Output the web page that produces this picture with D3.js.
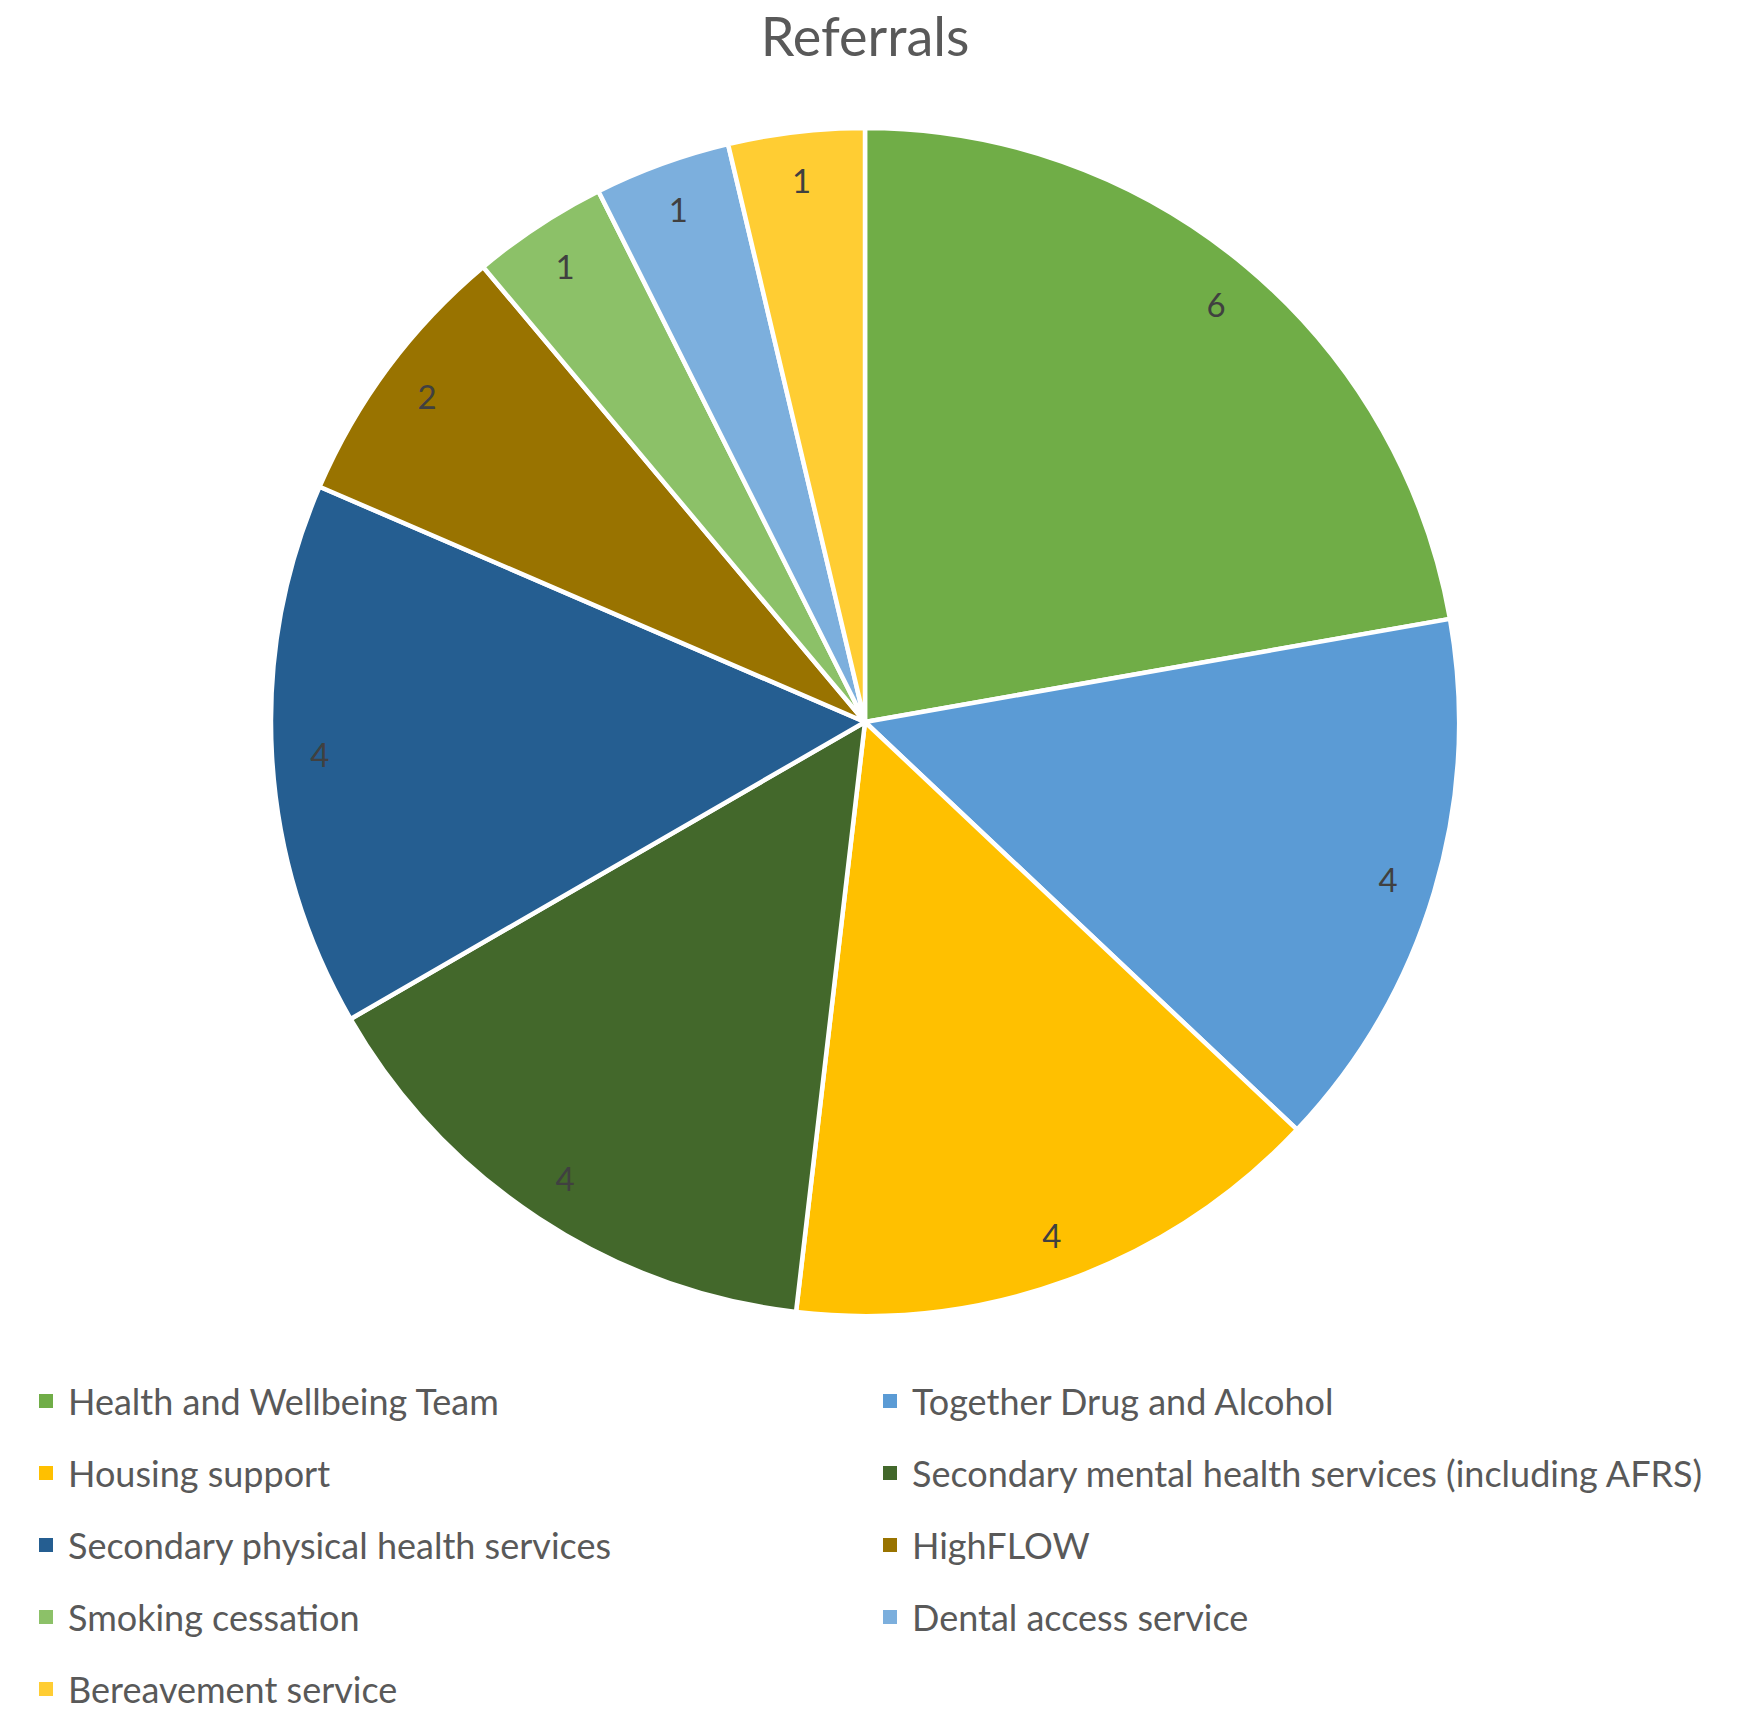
<!DOCTYPE html>
<html>
<head>
<meta charset="utf-8">
<script src="https://cdn.jsdelivr.net/npm/d3@7"></script>
<style>
  html, body { margin: 0; padding: 0; background: #fff; }
  svg { display: block; }
</style>
</head>
<body>
<svg id="chart" width="1741" height="1712"></svg>
<script>
// Referral counts by service
const categories = [
  "Health and Wellbeing Team",
  "Together Drug and Alcohol",
  "Housing support",
  "Secondary mental health services (including AFRS)",
  "Secondary physical health services",
  "HighFLOW",
  "Smoking cessation",
  "Dental access service",
  "Bereavement service"
];
const values = [6, 4, 4, 4, 4, 2, 1, 1, 1];
const colors = ["#70AD47", "#5B9BD5", "#FFC000", "#43682B", "#255E91", "#997300", "#8CC168", "#7CAFDD", "#FFCD33"];
const title = "Referrals";

const svg = d3.select("#chart");
const cx = 865, cy = 722, R = 594;
const font = "Lato, 'Open Sans', sans-serif";

// Title
svg.append("text")
  .attr("x", cx)
  .attr("y", 56)
  .attr("text-anchor", "middle")
  .attr("font-family", font)
  .attr("font-size", 54)
  .attr("fill", "#595959")
  .text(title);

// Pie
const pie = d3.pie().sort(null).value(d => d.v).startAngle(0).endAngle(2 * Math.PI);
const data = values.map((v, i) => ({ v, name: categories[i], color: colors[i] }));
const arcs = pie(data);
const arc = d3.arc().innerRadius(0).outerRadius(R);
const labelArc = d3.arc().innerRadius(546).outerRadius(546);

const g = svg.append("g").attr("transform", `translate(${cx},${cy})`);
g.selectAll("path.slice")
  .data(arcs)
  .join("path")
  .attr("class", "slice")
  .attr("d", arc)
  .attr("fill", d => d.data.color)
  .attr("stroke", "#fff")
  .attr("stroke-width", 4.5)
  .attr("stroke-linejoin", "round");

g.selectAll("text.value")
  .data(arcs)
  .join("text")
  .attr("class", "value")
  .attr("transform", d => `translate(${labelArc.centroid(d)})`)
  .attr("text-anchor", "middle")
  .attr("dominant-baseline", "central")
  .attr("font-family", font)
  .attr("font-size", 33)
  .attr("fill", "#404040")
  .text(d => d.data.v);

// Legend: two columns, filled row by row
const colX = [39, 883];
const rowY0 = 1401, rowStep = 72, sw = 14;
const legend = svg.append("g");
const items = legend.selectAll("g.item")
  .data(data)
  .join("g")
  .attr("class", "item")
  .attr("transform", (d, i) => `translate(${colX[i % 2]},${rowY0 + Math.floor(i / 2) * rowStep})`);
items.append("rect")
  .attr("x", 0)
  .attr("y", -sw / 2)
  .attr("width", sw)
  .attr("height", sw)
  .attr("fill", d => d.color);
items.append("text")
  .attr("x", 29)
  .attr("y", 0)
  .attr("dominant-baseline", "central")
  .attr("font-family", font)
  .attr("font-size", 36)
  .attr("fill", "#595959")
  .text(d => d.name);
</script>
</body>
</html>
